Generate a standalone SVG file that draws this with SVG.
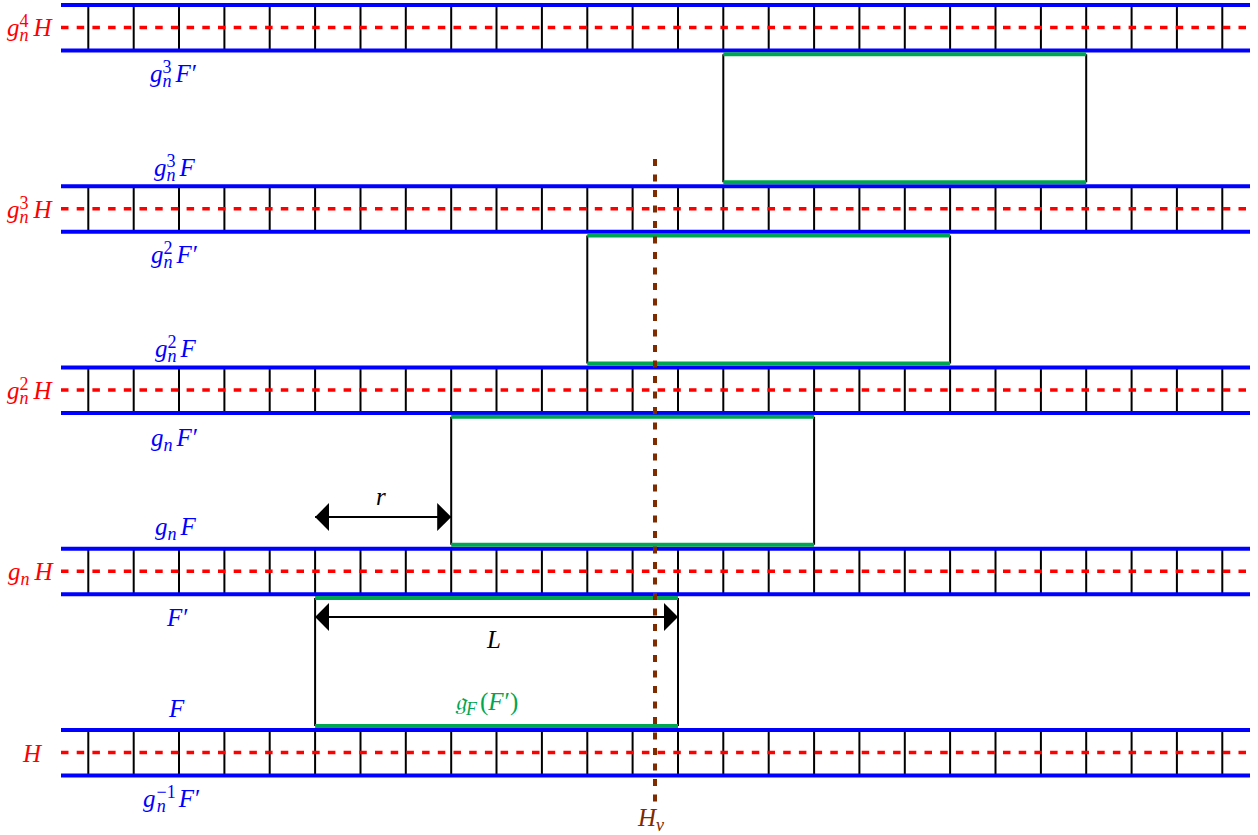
<svg xmlns="http://www.w3.org/2000/svg" xmlns:xlink="http://www.w3.org/1999/xlink" width="1258" height="835" viewBox="0 0 1258 835">
<style>
.bl{stroke:#0000ff;stroke-width:4;fill:none}
.rd{stroke:#ff0000;stroke-width:3.5;stroke-dasharray:7.5 8.2;fill:none}
.tk{stroke:#000;stroke-width:2;fill:none}
.gr{stroke:#00a651;stroke-width:4;fill:none}
.bx{stroke:#000;stroke-width:2;fill:none}
.hv{stroke:#802a00;stroke-width:4;stroke-dasharray:7 8.5;fill:none}
.ar{stroke:#000;stroke-width:2;fill:none}
text{font-family:"Liberation Serif","DejaVu Serif",serif;font-size:25px;font-style:italic}
.up{font-style:normal}
.s{font-size:18px}
.tb{fill:#0000ff}
.tr{fill:#ff0000}
.tg{fill:#00a651}
.tbr{fill:#802a00}
.tk0{fill:#000}
</style>
<defs>
<g id="band">
<path class="tk" d="M88.3,0v45.5M133.7,0v45.5M179,0v45.5M224.4,0v45.5M269.7,0v45.5M315.1,0v45.5M360.5,0v45.5M405.8,0v45.5M451.2,0v45.5M496.5,0v45.5M541.9,0v45.5M587.3,0v45.5M632.6,0v45.5M678,0v45.5M723.3,0v45.5M768.7,0v45.5M814.1,0v45.5M859.4,0v45.5M904.8,0v45.5M950.1,0v45.5M995.5,0v45.5M1040.9,0v45.5M1086.2,0v45.5M1131.6,0v45.5M1176.9,0v45.5M1222.3,0v45.5"/>
<path class="bl" d="M61,0H1250M61,45.5H1250"/>
<path class="rd" d="M61,22.5H1250"/>
</g>
<marker id="ah" viewBox="0 0 14 28" refX="14" refY="14" markerWidth="14" markerHeight="28" markerUnits="userSpaceOnUse" orient="auto-start-reverse">
<path d="M0,0L14,14L0,28z" fill="#000"/>
</marker>
</defs>

<g id="band-H">
<use xlink:href="#band" href="#band" y="730"/>
<text class="tr" x="23" y="762">H</text>
</g>
<g id="band-gnH">
<use xlink:href="#band" href="#band" y="548.75"/>
<text class="tr" x="8" y="580">g<tspan class="s" dy="5">n</tspan><tspan dx="5" dy="-5">H</tspan></text>
</g>
<g id="band-gn2H">
<use xlink:href="#band" href="#band" y="367.5"/>
<text class="tr" x="7" y="399">g<tspan class="s up" dy="-9.5">2</tspan><tspan class="s" dx="-9" dy="14.5">n</tspan><tspan dx="5" dy="-5">H</tspan></text>
</g>
<g id="band-gn3H">
<use xlink:href="#band" href="#band" y="186.25"/>
<text class="tr" x="7" y="218">g<tspan class="s up" dy="-9.5">3</tspan><tspan class="s" dx="-9" dy="14.5">n</tspan><tspan dx="5" dy="-5">H</tspan></text>
</g>
<g id="band-gn4H">
<use xlink:href="#band" href="#band" y="5"/>
<text class="tr" x="7" y="36">g<tspan class="s up" dy="-9.5">4</tspan><tspan class="s" dx="-9" dy="14.5">n</tspan><tspan dx="5" dy="-5">H</tspan></text>
</g>

<g id="box-F">
<path class="bx" d="M315.1,598V726M678,598V726"/>
<path class="gr" d="M315.1,598H678M315.1,726H678"/>
</g>
<g id="box-gnF">
<path class="bx" d="M451.2,416.75V544.75M814.1,416.75V544.75"/>
<path class="gr" d="M451.2,416.75H814.1M451.2,544.75H814.1"/>
</g>
<g id="box-gn2F">
<path class="bx" d="M587.3,235.5V363.5M950.1,235.5V363.5"/>
<path class="gr" d="M587.3,235.5H950.1M587.3,363.5H950.1"/>
</g>
<g id="box-gn3F">
<path class="bx" d="M723.3,54.25V182.25M1086.2,54.25V182.25"/>
<path class="gr" d="M723.3,54.25H1086.2M723.3,182.25H1086.2"/>
</g>

<g id="labels">
<text class="tb" x="150" y="82">g<tspan class="s up" dy="-9.5">3</tspan><tspan class="s" dx="-9" dy="14.5">n</tspan><tspan dx="4" dy="-5">F</tspan><tspan class="up" dx="1">′</tspan></text>
<text class="tb" x="154" y="176">g<tspan class="s up" dy="-9.5">3</tspan><tspan class="s" dx="-9" dy="14.5">n</tspan><tspan dx="4" dy="-5">F</tspan></text>
<text class="tb" x="151" y="263">g<tspan class="s up" dy="-9.5">2</tspan><tspan class="s" dx="-9" dy="14.5">n</tspan><tspan dx="4" dy="-5">F</tspan><tspan class="up" dx="1">′</tspan></text>
<text class="tb" x="155" y="357">g<tspan class="s up" dy="-9.5">2</tspan><tspan class="s" dx="-9" dy="14.5">n</tspan><tspan dx="4" dy="-5">F</tspan></text>
<text class="tb" x="151" y="446">g<tspan class="s" dy="5">n</tspan><tspan dx="4" dy="-5">F</tspan><tspan class="up" dx="1">′</tspan></text>
<text class="tb" x="155" y="535">g<tspan class="s" dy="5">n</tspan><tspan dx="4" dy="-5">F</tspan></text>
<text class="tb" x="167" y="626">F<tspan class="up" dx="1">′</tspan></text>
<text class="tb" x="169" y="717">F</text>
<text class="tb" x="143" y="807">g<tspan class="s up" dy="-9.5" dx="1">−1</tspan><tspan class="s" dx="-19" dy="14.5">n</tspan><tspan dx="13" dy="-5">F</tspan><tspan class="up" dx="1">′</tspan></text>
<text class="tg" x="455" y="710">𝔤<tspan class="s" dy="5">F</tspan><tspan class="up" dy="-5" dx="3">(</tspan>F<tspan class="up" dx="1">′</tspan><tspan class="up">)</tspan></text>
<text class="tk0" x="376" y="505">r</text>
<text class="tk0" x="487" y="648">L</text>
<text class="tbr" x="638" y="826">H<tspan class="s" dy="5">v</tspan></text>
</g>

<g id="connectors">
<line class="ar" x1="315.1" y1="517" x2="451.2" y2="517" marker-start="url(#ah)" marker-end="url(#ah)"/>
<line class="ar" x1="315.1" y1="617" x2="678" y2="617" marker-start="url(#ah)" marker-end="url(#ah)"/>
<line class="hv" x1="655" y1="159" x2="655" y2="805"/>
</g>
</svg>
